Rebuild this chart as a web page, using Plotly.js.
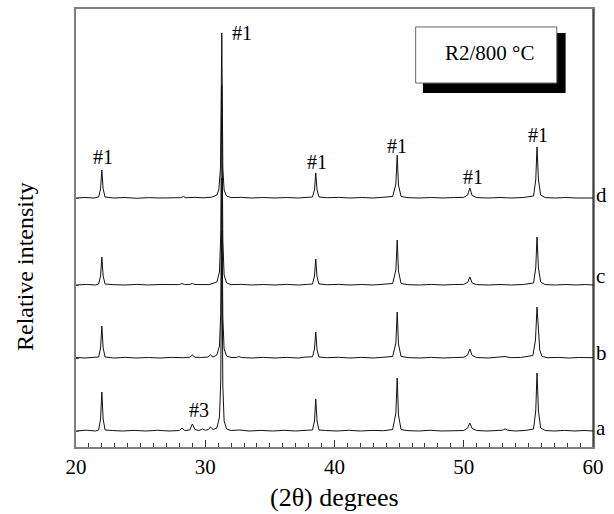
<!DOCTYPE html>
<html>
<head>
<meta charset="utf-8">
<script src="https://cdn.plot.ly/plotly-3.0.1.min.js"></script>
<style>html,body{margin:0;padding:0;background:#fff;}#chart{width:614px;height:514px;}</style>
</head>
<body>
<div id="chart"></div>
<script>
// 2-theta (degrees), relative intensity above each pattern's own baseline
const patternA = [[20,0],[20.8,0.8],[21.5,0],[21.75,1],[21.9,12],[22.0,39],[22.1,12],[22.25,1],[22.8,0.5],[23.6,0],[24.5,0.6],[25.4,0],[26.3,0.7],[27.2,0],[28.0,0.5],[28.2,3],[28.4,0.5],[28.8,1],[29.0,7],[29.2,1.5],[29.5,0.5],[29.8,2],[30.0,0.8],[30.25,1.5],[30.4,4],[30.6,1.5],[30.9,3],[31.1,14],[31.2,50],[31.28,200],[31.36,45],[31.46,10],[31.65,2],[32.0,0.5],[32.6,1],[33.4,0],[34.3,0.6],[35.2,0],[36.1,0.7],[37.0,0],[37.9,0.8],[38.3,1],[38.45,10],[38.55,32],[38.65,10],[38.8,1],[39.3,0.5],[40.2,0],[41.1,0.7],[42.0,0],[42.9,0.6],[43.8,0.3],[44.5,1.5],[44.75,18],[44.85,53],[44.95,16],[45.15,1.5],[45.6,0.4],[46.5,0],[47.4,0.7],[48.3,0],[49.2,0.5],[50.0,0.5],[50.3,3],[50.47,8],[50.65,2.5],[51.0,0.5],[51.8,0],[52.6,0.5],[53.0,0.8],[53.2,2],[53.4,0.8],[54.0,0],[54.8,0.6],[55.4,2],[55.57,20],[55.67,58],[55.78,20],[55.95,3],[56.3,0.5],[57.0,0],[57.8,0.6],[58.6,0],[59.3,0.5],[60,0]];
const patternB = [[20,0.5],[20.7,0],[21.4,0.7],[21.75,1],[21.9,10],[22.0,32],[22.1,10],[22.25,1],[22.9,0],[23.8,0.6],[24.7,0],[25.6,0.5],[26.5,0],[27.4,0.6],[28.3,0.3],[28.8,0.8],[29.0,3],[29.2,0.8],[29.7,0.5],[30.2,1],[30.4,3],[30.6,1],[30.9,3],[31.1,12],[31.2,45],[31.28,180],[31.36,40],[31.46,9],[31.65,2],[32.0,0.5],[32.4,0.5],[32.6,1.5],[32.8,0.5],[33.6,0],[34.5,0.6],[35.4,0],[36.3,0.6],[37.2,0],[37.8,1],[38.3,1.2],[38.45,9],[38.55,26],[38.65,8],[38.8,1],[39.4,0.3],[40.3,0.7],[41.2,0],[42.1,0.6],[43.0,0],[43.9,0.5],[44.5,1.5],[44.75,15],[44.85,46],[44.95,14],[45.15,1.5],[45.7,0.4],[46.6,0],[47.5,0.6],[48.4,0],[49.3,0.5],[50.0,0.7],[50.3,3],[50.47,9],[50.65,2.5],[51.0,0.5],[51.9,0],[52.7,0.6],[53.2,1.5],[53.6,0.4],[54.4,0.5],[55.35,2.5],[55.55,18],[55.67,51],[55.78,22],[55.88,8],[56.05,1.5],[56.5,0.3],[57.3,0.6],[58.1,0],[58.9,0.5],[59.6,0],[60,0.3]];
const patternC = [[20,0],[20.8,0.6],[21.5,0],[21.75,1],[21.9,9],[22.0,28],[22.1,9],[22.25,1],[22.9,0.3],[23.8,0],[24.7,0.6],[25.6,0],[26.5,0.5],[27.4,0],[28.0,0.4],[28.2,1.5],[28.4,0.4],[28.8,0.5],[29.0,1.5],[29.2,0.5],[29.8,0.6],[30.3,0.4],[30.9,3],[31.1,13],[31.2,50],[31.28,200],[31.36,45],[31.46,10],[31.65,2],[32.0,0.4],[32.8,0.6],[33.6,0],[34.5,0.5],[35.4,0],[36.3,0.6],[37.2,0],[37.9,0.6],[38.3,1],[38.45,9],[38.55,26],[38.65,8],[38.8,1],[39.4,0.3],[40.3,0.6],[41.2,0],[42.1,0.5],[43.0,0],[43.9,0.5],[44.5,1.5],[44.75,15],[44.85,45],[44.95,14],[45.15,1.5],[45.7,0.3],[46.6,0],[47.5,0.6],[48.4,0],[49.3,0.5],[50.0,0.6],[50.3,2.5],[50.47,8],[50.65,2],[51.0,0.4],[51.9,0],[52.8,0.5],[53.7,0],[54.6,0.5],[55.4,2],[55.57,17],[55.67,48],[55.78,17],[55.95,3],[56.3,0.4],[57.1,0],[57.9,0.5],[58.7,0],[59.4,0.5],[60,0]];
const patternD = [[20,0],[20.7,0.5],[21.4,0],[21.75,1],[21.9,9],[22.0,28],[22.1,9],[22.25,1],[22.9,0],[23.8,0.5],[24.7,-0.3],[25.6,0.4],[26.5,0],[27.4,0.5],[28.1,0.3],[28.3,1.5],[28.5,0.3],[29.2,0.6],[29.9,0.2],[30.5,0.8],[30.9,3],[31.05,8],[31.18,30],[31.28,165],[31.36,30],[31.46,8],[31.65,2],[32.0,0.4],[32.8,0.6],[33.6,0],[34.5,0.5],[35.4,0],[36.3,0.5],[37.2,0],[37.9,0.6],[38.3,1],[38.45,8],[38.55,25],[38.65,8],[38.8,1],[39.4,0.3],[40.3,0.6],[41.2,0],[42.1,0.5],[43.0,0],[43.9,0.5],[44.5,1.5],[44.75,14],[44.85,43],[44.95,13],[45.15,1.5],[45.7,0.3],[46.6,0],[47.5,0.5],[48.4,0],[49.3,0.5],[50.0,0.6],[50.3,3],[50.47,10],[50.65,2.5],[51.0,0.4],[51.9,0],[52.8,0.5],[53.7,0],[54.6,0.5],[55.4,2],[55.57,18],[55.67,51],[55.78,18],[55.95,3],[56.3,0.4],[57.1,0],[57.9,0.5],[58.7,0],[59.4,0.4],[60,0]];

const sampleLabels = ['a', 'b', 'c', 'd'];
const offsets = [16, 89, 162, 249];          // stacking offset of each pattern
const patterns = [patternA, patternB, patternC, patternD];

// peak assignment labels and where they sit
const peakLabels = ['#1', '#1', '#1', '#1', '#1', '#1', '#3'];
const peakLabelX = [22.1, 32.86, 38.64, 44.83, 50.7, 55.72, 29.54];
const peakLabelY = [290, 414, 285, 301, 270, 312, 37];

const xTickVals = [20, 30, 40, 50, 60];
const FONT = 'Liberation Serif';

const traces = patterns.map((p, i) => ({
  type: 'scatter', mode: 'lines',
  x: p.map(q => q[0]),
  y: p.map(q => q[1] + offsets[i]),
  line: {color: '#111', width: 1},
  hoverinfo: 'skip', showlegend: false
}));

const annotations = [];
peakLabels.forEach((t, i) => annotations.push({
  x: peakLabelX[i], y: peakLabelY[i], xref: 'x', yref: 'y', text: t,
  showarrow: false, font: {family: FONT, size: 20, color: '#000'}
}));
const labelShift = [3, 5, 9, 3];
sampleLabels.forEach((t, i) => annotations.push({
  x: 1, xref: 'paper', y: offsets[i], yref: 'y', yshift: labelShift[i], text: t, xanchor: 'left',
  xshift: 1, showarrow: false, font: {family: FONT, size: 21, color: '#000'}
}));
annotations.push({
  x: 0, xref: 'paper', xshift: -51, y: 0.411, yref: 'paper', text: 'Relative intensity',
  textangle: -90, showarrow: false, xanchor: 'center', yanchor: 'middle',
  font: {family: FONT, size: 24, color: '#000'}
});
annotations.push({
  x: 0.5, xref: 'paper', y: 0, yref: 'paper', yshift: -50, text: '(2θ) degrees',
  showarrow: false, xanchor: 'center', yanchor: 'middle',
  font: {family: FONT, size: 26, color: '#000'}
});
annotations.push({
  x: 0.8005, xref: 'paper', y: 0.9, yref: 'paper', text: 'R2/800 °C',
  showarrow: false, xanchor: 'center', yanchor: 'middle',
  font: {family: FONT, size: 21, color: '#000'}
});

const layout = {
  width: 614, height: 514,
  margin: {l: 76, r: 21, t: 9, b: 67},
  paper_bgcolor: '#fff', plot_bgcolor: '#fff',
  showlegend: false,
  xaxis: {
    range: [20, 60], tickvals: xTickVals, ticks: 'inside', ticklen: 7, tickwidth: 1,
    tickcolor: '#333', showgrid: false, zeroline: false,
    showline: true, linecolor: '#808080', linewidth: 2, mirror: true,
    minor: {dtick: 1, ticks: 'inside', ticklen: 4, tickcolor: '#333', showgrid: false},
    tickfont: {family: FONT, size: 21, color: '#000'}
  },
  yaxis: {
    range: [0, 438], tickvals: offsets, ticks: 'inside', ticklen: 3,
    tickcolor: '#555', showticklabels: false, showgrid: false, zeroline: false,
    showline: true, linecolor: '#808080', linewidth: 2, mirror: true
  },
  shapes: [
    {type: 'line', xref: 'paper', yref: 'paper', x0: 1, x1: 1, y0: 0, y1: 1,
     line: {color: '#000', width: 1}},
    {type: 'rect', xref: 'paper', yref: 'paper', x0: 0.671, x1: 0.947, y0: 0.808, y1: 0.945,
     fillcolor: '#000', line: {width: 0}},
    {type: 'rect', xref: 'paper', yref: 'paper', x0: 0.657, x1: 0.930, y0: 0.831, y1: 0.959,
     fillcolor: '#fff', line: {color: '#666', width: 1}}
  ],
  annotations: annotations
};

Plotly.newPlot('chart', traces, layout, {staticPlot: true, displayModeBar: false});
</script>
</body>
</html>
